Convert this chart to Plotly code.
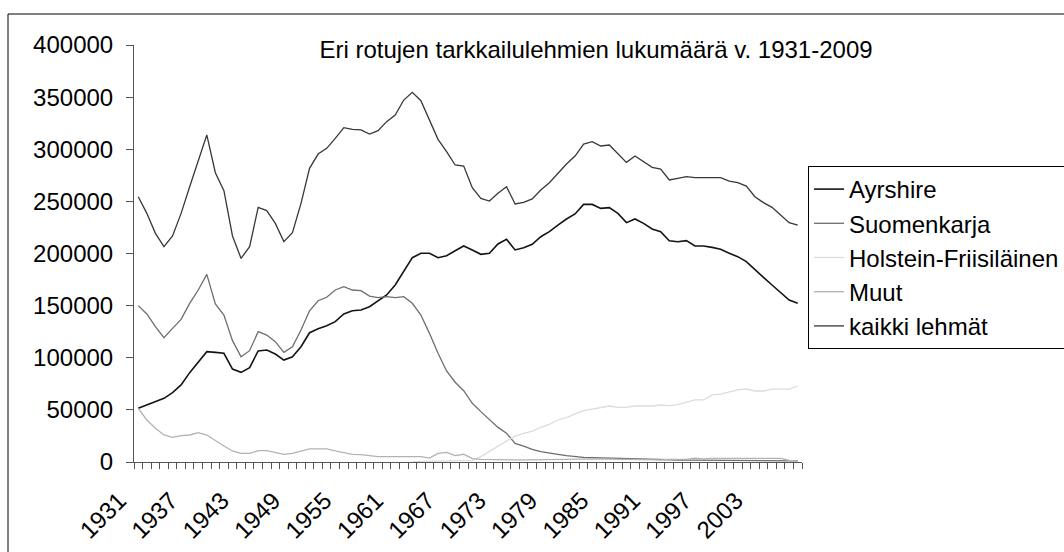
import plotly.graph_objects as go

years = list(range(1931, 2009))
tick_years = list(range(1931, 2004, 6))

ayrshire = [51500, 54700, 57900, 61100, 66500, 73900, 85700, 96200, 105800, 105200,
            104300, 89200, 86000, 90500, 106500, 107400, 103600, 97800, 101000, 110600,
            124000, 127900, 130700, 134600, 142000, 145100, 145800, 149000, 154400, 160200,
            169800, 182600, 196000, 200200, 200200, 196000, 197900, 202700, 207200, 203400,
            199200, 200200, 209100, 213600, 203400, 205600, 208800, 216100, 220900, 227300,
            233100, 237900, 247100, 247100, 243300, 244000, 238500, 229600, 233100, 228900,
            223500, 220900, 212300, 211300, 212300, 207200, 207200, 205900, 204000, 200200,
            197000, 192200, 184200, 177100, 169800, 162700, 155400, 152200]

suomenkarja = [150000, 142000, 129800, 119300, 128200, 136800, 152200, 165000, 180000, 151600,
               141000, 116400, 101000, 106800, 125000, 121800, 115400, 105200, 110600, 126600,
               145100, 154700, 158000, 165000, 168200, 165000, 164300, 159200, 157600, 158600,
               157600, 158600, 152200, 141000, 123400, 104300, 87300, 76500, 68400, 56300,
               48300, 40300, 33200, 27500, 17900, 15300, 12100, 9900, 8300, 7400,
               6100, 5100, 4500, 4200, 3900, 3600, 3300, 3000, 2700, 2500,
               2300, 2100, 2000, 1900, 1800, 1700, 1600, 1500, 1500, 1400,
               1400, 1300, 1300, 1200, 1200, 1200, 1100, 1100]

holstein = [None] * 32 + [300, 400, 500, 600, 700, 800, 1000, 1500,
            5100, 9900, 15300, 20100, 24900, 27500, 29700, 33200, 36100, 40300,
            42500, 46200, 49200, 50800, 52100, 53700, 52400, 52400, 53700, 53700,
            53700, 54700, 54000, 55000, 56900, 59500, 59500, 64300, 65200, 67400,
            69100, 70000, 68100, 68100, 70000, 70000, 70000, 72900]

muut = [51500, 40300, 32300, 25900, 23700, 25300, 25900, 28100, 25900, 20500,
        15300, 10600, 8300, 8300, 10900, 10900, 8900, 7400, 8300, 10600,
        12500, 12500, 12500, 10600, 9300, 7400, 7000, 6100, 5100, 5100,
        5100, 5100, 5100, 5100, 3800, 8300, 9300, 6100, 7400, 3200,
        2600, 2300, 2200, 2000, 2000, 2000, 2000, 2000, 2200, 2400,
        2600, 2800, 3000, 3000, 3000, 2800, 2600, 2400, 2200, 2000,
        2000, 2000, 2500, 2500, 2500, 3800, 3000, 3500, 3500, 3500,
        3500, 3500, 3500, 3500, 3500, 3500, 1500, 1000]

kaikki = [254500, 238500, 219300, 206600, 216800, 238500, 264100, 288100, 313700, 277500,
          260300, 216800, 195300, 206600, 244300, 241100, 228900, 211400, 220000, 248100,
          281700, 295400, 300900, 310400, 320700, 319100, 318500, 314600, 317800, 326500,
          332800, 347200, 354600, 346600, 328000, 309500, 297700, 284900, 283900, 263100,
          252900, 250300, 257700, 264100, 247500, 249100, 252300, 260900, 267900, 276900,
          285800, 293500, 305000, 307300, 303100, 304100, 296100, 287400, 293500, 288100,
          282600, 281000, 270500, 272100, 273700, 272700, 272700, 272700, 272700, 269500,
          267900, 264700, 254500, 248800, 244300, 236900, 229600, 227300]

series = [
    ("Ayrshire", ayrshire, "#141414", 1.6),
    ("Suomenkarja", suomenkarja, "#6e6e6e", 1.3),
    ("Holstein-Friisiläinen", holstein, "#dcdcdc", 1.3),
    ("Muut", muut, "#b2b2b2", 1.3),
    ("kaikki lehmät", kaikki, "#383838", 1.3),
]

FONT = "Liberation Sans, Arial, sans-serif"

fig = go.Figure()
for name, vals, color, w in series:
    fig.add_trace(go.Scatter(x=years, y=vals, mode="lines", name=name,
                             line=dict(color=color, width=w)))

W, H = 1064, 552
L, R, T, B = 134, 262, 45, 90
pw, ph = W - L - R, H - T - B

def px_x(p):
    return (p - L) / pw

def px_y(p):
    return (H - B - p) / ph

fig.update_layout(
    width=W, height=H,
    margin=dict(l=L, r=R, t=T, b=B, autoexpand=False),
    paper_bgcolor="white", plot_bgcolor="white",
    font=dict(family=FONT, size=24, color="black"),
    title=dict(text="Eri rotujen tarkkailulehmien lukumäärä v. 1931-2009",
               x=596 / W, xanchor="center", y=1 - 50 / H, yanchor="middle",
               xref="container", yref="container",
               font=dict(family=FONT, size=24, color="black")),
    showlegend=True,
    legend=dict(x=px_x(808), xanchor="left", y=px_y(166), yanchor="top",
                bordercolor="black", borderwidth=1, bgcolor="white",
                font=dict(family=FONT, size=24, color="black"),
                itemwidth=30, traceorder="normal"),
    xaxis=dict(type="linear", range=[1930.5, 2008.5], tickmode="array",
               tickvals=tick_years, ticktext=[str(y) for y in tick_years],
               tickangle=-45, ticks="", showgrid=False, zeroline=False,
               showline=True, linecolor="#555555", linewidth=1,
               ticklabelstandoff=14, ticklabelshift=-19,
               tickfont=dict(family=FONT, size=24, color="black"),
               minor=dict(tickmode="array",
                          tickvals=[y - 0.5 for y in years] + [years[-1] + 0.5],
                          ticks="outside", ticklen=6, tickcolor="#555555",
                          tickwidth=1, showgrid=False)),
    yaxis=dict(range=[0, 400000], tickmode="linear", tick0=0, dtick=50000,
               tickformat="d", ticks="outside", ticklen=7, tickcolor="#555555",
               ticklabelstandoff=8,
               showgrid=False, zeroline=False, showline=True,
               linecolor="#555555", linewidth=1,
               tickfont=dict(family=FONT, size=24, color="black")),
    shapes=[dict(type="rect", xref="paper", yref="paper",
                 x0=px_x(8), x1=px_x(1075), y0=px_y(565), y1=px_y(14),
                 line=dict(color="black", width=1), fillcolor="rgba(0,0,0,0)",
                 layer="below")],
)

fig.write_html("out.html", config={"displayModeBar": False},
               post_script="document.body.style.margin='0';document.body.style.overflow='hidden';")
